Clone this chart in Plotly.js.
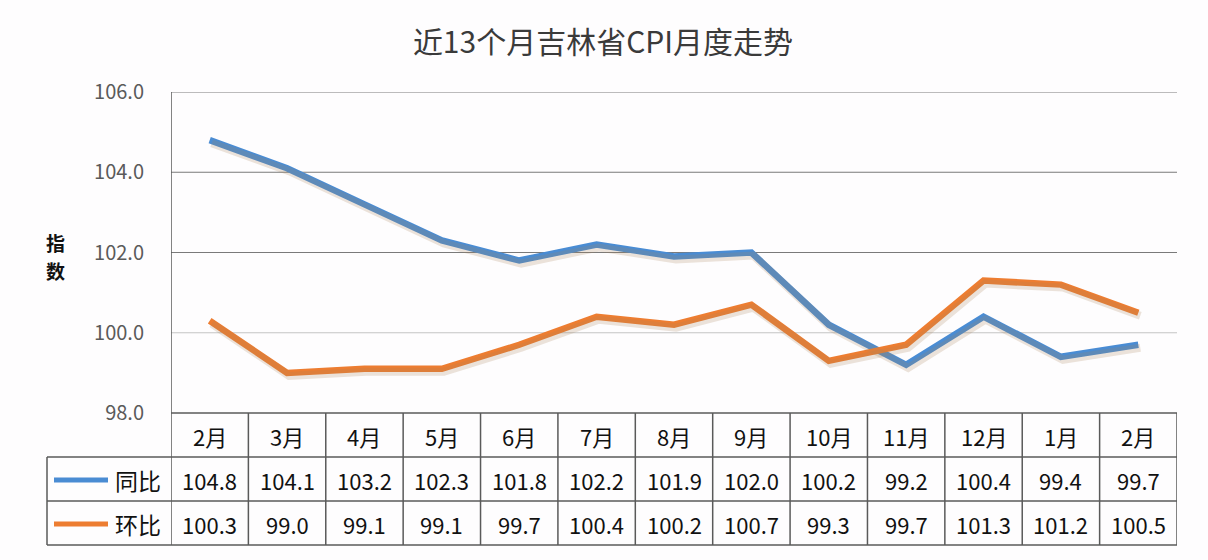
<!DOCTYPE html>
<html>
<head>
<meta charset="utf-8">
<script src="https://cdn.plot.ly/plotly-3.0.1.min.js"></script>
<style>html,body{margin:0;padding:0;background:#fff;}#chart{width:1208px;height:560px;}</style>
</head>
<body>
<div id="chart"></div>
<script>
// ---- data ----
const months = ['2月','3月','4月','5月','6月','7月','8月','9月','10月','11月','12月','1月','2月'];
const yoy = [104.8,104.1,103.2,102.3,101.8,102.2,101.9,102.0,100.2,99.2,100.4,99.4,99.7];   // 同比
const mom = [100.3,99.0,99.1,99.1,99.7,100.4,100.2,100.7,99.3,99.7,101.3,101.2,100.5];     // 环比
const seriesNames = ['同比','环比'];
const yTicks = [98,100,102,104,106];
const yTitleChars = ['指','数'];

// ---- layout constants ----
const W = 1208, H = 560;
const mL = 171, mR = 31, mT = 92, mB = 147;
const plotH = H - mT - mB;      // 321
const plotW = W - mL - mR;      // 1006
const pxToPaperY = py => (H - mB - py) / plotH;
const pxToPaperX = px => (px - mL) / plotW;

const blue = '#4a8cd3';
const orange = '#ed7d31';
const lineCol = '#5a5a5a';
const font = '"Noto Sans CJK SC", "Noto Sans", sans-serif';

const idx = months.map((_, i) => i);
const xRange = [-0.5, months.length - 0.5];
const yRange = [98, 106];

// shadow offsets (in px) converted through scales
const dxU = 2 * (xRange[1]-xRange[0]) / plotW;
const dyU = 3 * (yRange[1]-yRange[0]) / plotH;

const traces = [
  {x: idx, y: yoy, xaxis:'x2', yaxis:'y2', mode:'lines', line:{color:'rgba(170,130,90,0.22)', width:8}, hoverinfo:'skip', showlegend:false},
  {x: idx, y: mom, xaxis:'x2', yaxis:'y2', mode:'lines', line:{color:'rgba(170,130,90,0.22)', width:8}, hoverinfo:'skip', showlegend:false},
  {x: idx, y: yoy, name: seriesNames[0], mode:'lines', line:{color:blue, width:6.5}, showlegend:false},
  {x: idx, y: mom, name: seriesNames[1], mode:'lines', line:{color:orange, width:6.5}, showlegend:false}
];

const shapes = [];
const annotations = [];

// gridlines
yTicks.forEach(v => {
  if (v === yRange[0]) return;
  shapes.push({type:'line', xref:'paper', yref:'y', x0:0, x1:1, y0:v, y1:v,
    line:{color: v === 100 ? '#c4c4c4' : '#7a7a7a', width:1.2}, layer:'below'});
});

// table geometry (pixels)
const rowTops = [413, 457, 501, 545];
const tableLeftPx = 47;
const tl = pxToPaperX(tableLeftPx);
shapes.push({type:'line', xref:'paper', yref:'paper', x0:0, x1:1, y0:pxToPaperY(rowTops[0]), y1:pxToPaperY(rowTops[0]), line:{color:lineCol, width:1.5}});
for (let r = 1; r < rowTops.length; r++) {
  shapes.push({type:'line', xref:'paper', yref:'paper', x0:tl, x1:1, y0:pxToPaperY(rowTops[r]), y1:pxToPaperY(rowTops[r]), line:{color:lineCol, width:1.5}});
}
for (let i = 0; i <= months.length; i++) {
  shapes.push({type:'line', xref:'x', yref:'paper', x0:i-0.5, x1:i-0.5,
    y0: i === 0 ? 1 : pxToPaperY(rowTops[0]), y1: pxToPaperY(rowTops[3]), line:{color:lineCol, width:1.5}});
}
shapes.push({type:'line', xref:'paper', yref:'paper', x0:tl, x1:tl, y0:pxToPaperY(rowTops[1]), y1:pxToPaperY(rowTops[3]), line:{color:lineCol, width:1.5}});

const rowMid = r => pxToPaperY((rowTops[r] + rowTops[r+1]) / 2 + 1);
const cellFont = {family:font, size:22, color:'#111'};
const cell = (x, y, text, xref, f) => ({xref: xref || 'x', yref:'paper', x, y, text, showarrow:false,
  xanchor:'center', yanchor:'middle', font: f || cellFont});
months.forEach((m, i) => {
  annotations.push(cell(i, rowMid(0), m));
  annotations.push(cell(i, rowMid(1), yoy[i].toFixed(1)));
  annotations.push(cell(i, rowMid(2), mom[i].toFixed(1)));
});
// legend keys in table
[blue, orange].forEach((c, k) => {
  const yy = rowMid(k+1);
  shapes.push({type:'line', xref:'paper', yref:'paper', x0:pxToPaperX(54), x1:pxToPaperX(108), y0:yy, y1:yy, line:{color:c, width:5}});
  annotations.push(cell(pxToPaperX(138), yy, seriesNames[k], 'paper', {family:font, size:23, color:'#111'}));
});

// y title (stacked, one character per annotation)
yTitleChars.forEach((ch, k) => {
  const a = cell(pxToPaperX(55), pxToPaperY(242 + k * 28), '<b>' + ch + '</b>', 'paper', {family:font, size:19, color:'#111'});
  a.borderpad = 0;
  annotations.push(a);
});

const layout = {
  width: W, height: H,
  margin:{l:mL, r:mR, t:mT, b:mB, pad:0},
  paper_bgcolor:'#fefdfe', plot_bgcolor:'rgba(0,0,0,0)',
  title:{text:'近13个月吉林省CPI月度走势', x:603/W, xref:'container', xanchor:'center', y:1-42/H, yref:'container', yanchor:'middle',
    font:{family:font, size:30, color:'#3a3a3a'}},
  xaxis:{range:xRange, showgrid:false, zeroline:false, showticklabels:false, showline:false, fixedrange:true},
  yaxis:{range:yRange, tickvals:yTicks, ticktext:yTicks.map(v=>v.toFixed(1)), showgrid:false, zeroline:false,
    showline:false, ticks:'', ticklabelstandoff:26, tickfont:{family:font, size:20, color:'#5a5a5a'}, fixedrange:true},
  xaxis2:{range:[xRange[0]-dxU, xRange[1]-dxU], overlaying:'x', visible:false, fixedrange:true},
  yaxis2:{range:[yRange[0]+dyU, yRange[1]+dyU], overlaying:'y', visible:false, fixedrange:true},
  shapes, annotations, showlegend:false
};

Plotly.newPlot('chart', traces, layout, {staticPlot:true});
</script>
</body>
</html>
